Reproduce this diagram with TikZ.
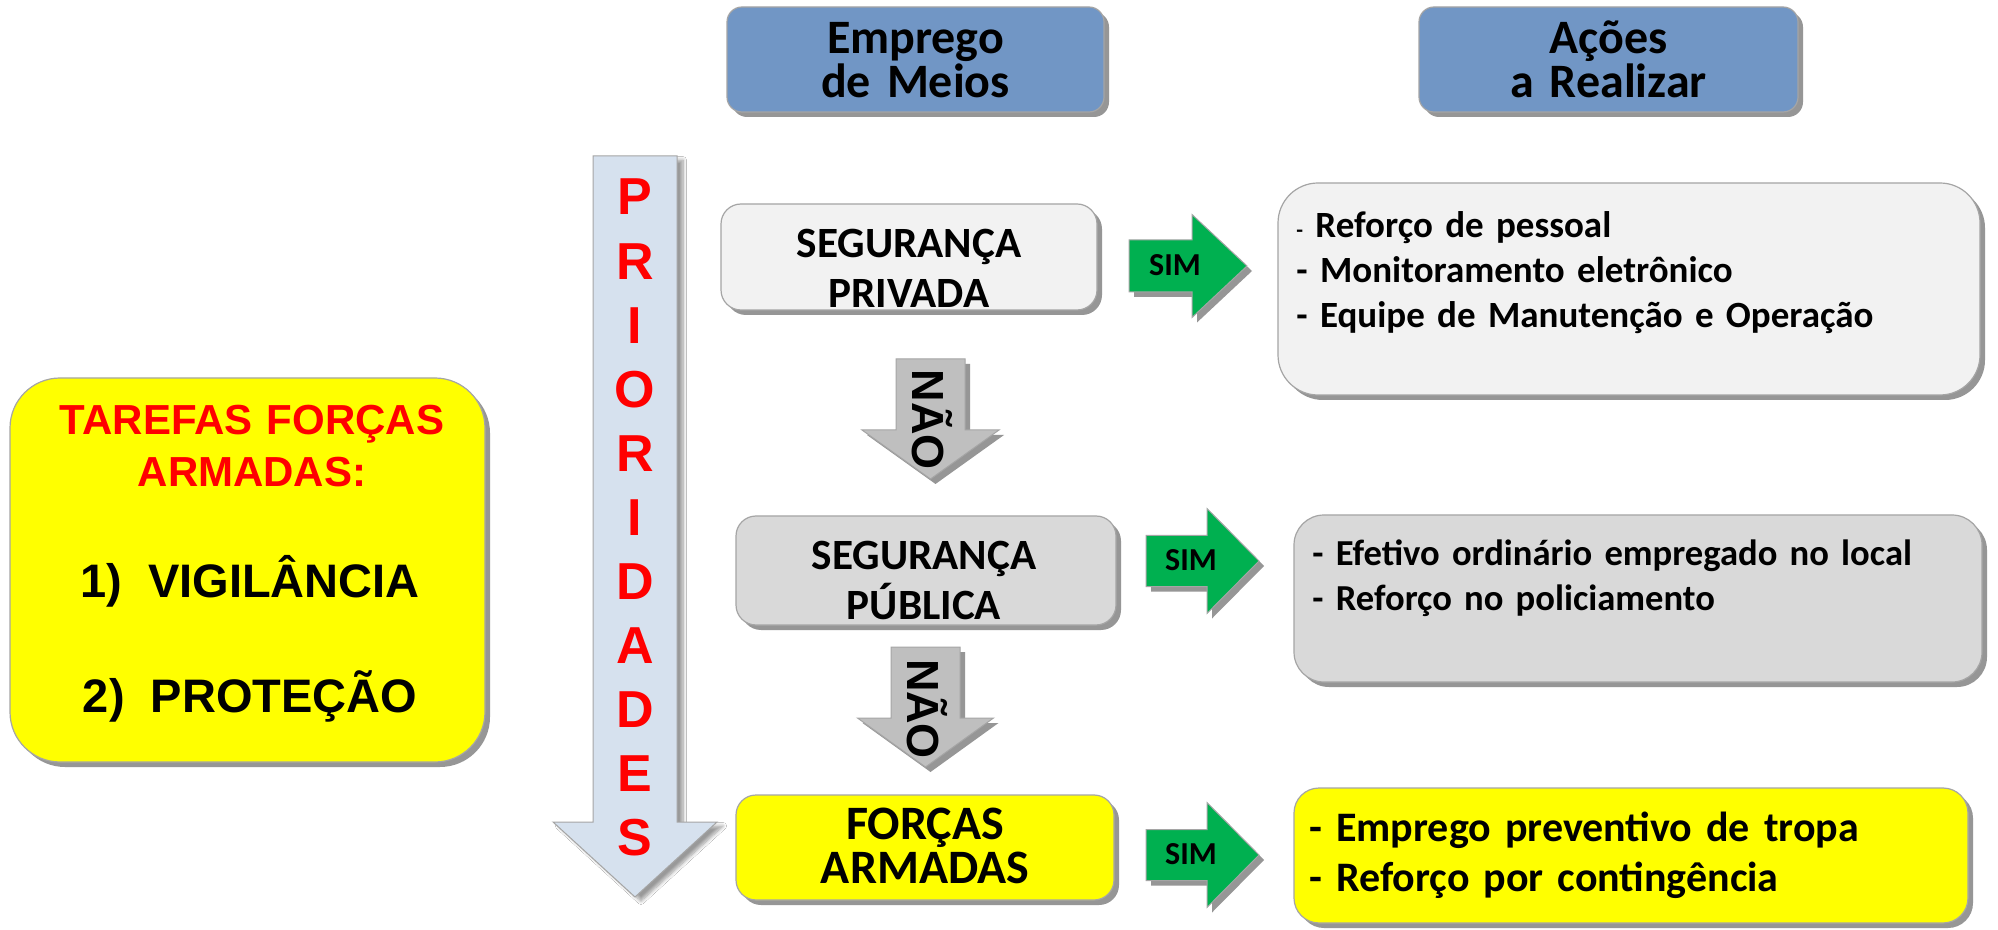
\documentclass[tikz,border=0pt]{standalone}
\usepackage{fontspec}
\newfontfamily\calib{Carlito}
\newfontfamily\arialf{Liberation Sans}
\usetikzlibrary{shadows,shadows.blur}
\definecolor{hdblue}{RGB}{113,150,197}
\definecolor{lgray}{RGB}{242,242,242}
\definecolor{mgray}{RGB}{217,217,217}
\definecolor{ylw}{RGB}{255,255,0}
\definecolor{grn}{RGB}{0,176,80}
\definecolor{agray}{RGB}{191,191,191}
\definecolor{pblue}{RGB}{214,225,238}
\definecolor{bord}{RGB}{165,165,165}
\definecolor{shdc}{RGB}{150,150,150}
\definecolor{redt}{RGB}{255,0,0}
\newcommand\rblock[7]{\path[#7] ({#1},{#2-#3}) -- ({#4},{#2-#3}) -- ({#4},{#2-#5}) -- ({#6},{#2}) -- ({#4},{#2+#5}) -- ({#4},{#2+#3}) -- ({#1},{#2+#3}) -- cycle;}
\newcommand\dblock[7]{\path[#7] ({#1-#3},{#2}) -- ({#1+#3},{#2}) -- ({#1+#3},{#4}) -- ({#1+#5},{#4}) -- ({#1},{#6}) -- ({#1-#5},{#4}) -- ({#1-#3},{#4}) -- cycle;}
\tikzset{
  shd/.style={drop shadow={shadow xshift=2.5pt,shadow yshift=-2.5pt,fill=shdc,opacity=1}},
  box/.style={draw=bord,line width=0.6pt,inner sep=0pt,shd},
  cal/.style={font=\calib\bfseries\fontsize{#1}{#1}\selectfont},
  blockarrow/.style={draw=bord,line width=0.5pt,shd},
}
\begin{document}
\lineskiplimit=-100pt
\begin{tikzpicture}[x=0.5pt,y=-0.5pt]
\fill[white] (0,0) rectangle (1998,930);
\useasboundingbox (0,0) rectangle (1998,930);

% left box
\node[box,fill=ylw,rounded corners=25pt,minimum width=237.5pt,minimum height=192pt] (tarefas) at (247.5,570) {};
\node[anchor=base,inner sep=0pt,text width=230pt,align=center,text=redt,
      font=\arialf\bfseries\fontsize{21pt}{26pt}\selectfont] (tit) at (252,435) {TAREFAS FORÇAS\\ARMADAS:};
\node[anchor=base,inner sep=0pt,font=\arialf\bfseries\fontsize{23.5pt}{28pt}\selectfont] (vig) at (250,597) {1)\ \ VIGILÂNCIA};
\node[anchor=base,inner sep=0pt,font=\arialf\bfseries\fontsize{23.5pt}{28pt}\selectfont] (prot) at (250,712) {2)\ \ PROTEÇÃO};

% headers
\node[box,fill=hdblue,rounded corners=7.5pt,minimum width=188.5pt,minimum height=52.5pt] (h1) at (915.5,59.5) {};
\node[anchor=base,inner sep=0pt,text width=180pt,align=center,
      font=\calib\bfseries\fontsize{24pt}{20.5pt}\selectfont] (h1t) at (915.5,54) {Emprego\\de Meios};
\node[box,fill=hdblue,rounded corners=7.5pt,minimum width=189.5pt,minimum height=52.5pt] (h2) at (1608.5,59.5) {};
\node[anchor=base,inner sep=0pt,text width=180pt,align=center,
      font=\calib\bfseries\fontsize{24pt}{20.5pt}\selectfont] (h2t) at (1608.5,54) {Ações\\a Realizar};

% priorities arrow
\dblock{635}{156}{42}{822}{82}{897}{fill=pblue,draw=bord,line width=0.5pt,blur shadow={shadow xshift=3pt,shadow yshift=-2pt,shadow blur steps=8}}
\node[anchor=base,inner sep=0pt,text width=40pt,align=center,text=redt,
      font=\arialf\bfseries\fontsize{26pt}{32.05pt}\selectfont] (prio) at (635,215)
      {P\\R\\I\\O\\R\\I\\D\\A\\D\\E\\S};

% middle column
\node[box,fill=lgray,rounded corners=10pt,minimum width=188pt,minimum height=53pt] (m1) at (909,257) {};
\node[anchor=base,inner sep=0pt,text width=185pt,align=center,
      font=\calib\bfseries\fontsize{21.6pt}{25pt}\selectfont] (m1t) at (909,258) {SEGURANÇA\\PRIVADA};
\node[box,fill=mgray,rounded corners=10pt,minimum width=190pt,minimum height=54.5pt] (m2) at (926,570.5) {};
\node[anchor=base,inner sep=0pt,text width=185pt,align=center,
      font=\calib\bfseries\fontsize{21.6pt}{25pt}\selectfont] (m2t) at (924,569) {SEGURANÇA\\PÚBLICA};
\node[box,fill=ylw,rounded corners=10pt,minimum width=189pt,minimum height=52.5pt] (m3) at (925,847.5) {};
\node[anchor=base,inner sep=0pt,text width=185pt,align=center,
      font=\calib\bfseries\fontsize{24pt}{22pt}\selectfont] (m3t) at (925,839) {FORÇAS\\ARMADAS};

% NAO arrows
\dblock{930.5}{359}{34.5}{430}{68.5}{479}{fill=agray,blockarrow}
\node[rotate=-90,inner sep=0pt,font=\arialf\bfseries\fontsize{22.5pt}{22.5pt}\selectfont] (nao1) at (932,420) {NÃO};
\dblock{925.5}{647}{34.5}{718}{68}{767}{fill=agray,blockarrow}
\node[rotate=-90,inner sep=0pt,font=\arialf\bfseries\fontsize{22.5pt}{22.5pt}\selectfont] (nao2) at (927,709) {NÃO};

% SIM arrows
\rblock{1129}{266}{26}{1192}{51.5}{1247}{fill=grn,blockarrow}
\node[inner sep=0pt,cal=16pt] (sim1) at (1175,265) {SIM};
\rblock{1146}{561}{25.5}{1207}{52.5}{1259}{fill=grn,blockarrow}
\node[inner sep=0pt,cal=16pt] (sim2) at (1191,560) {SIM};
\rblock{1146}{855}{25.5}{1207}{52.5}{1259}{fill=grn,blockarrow}
\node[inner sep=0pt,cal=16pt] (sim3) at (1191,854) {SIM};

% right column
\node[box,fill=lgray,rounded corners=20pt,minimum width=351pt,minimum height=106pt] (r1) at (1629,289) {};
\node[anchor=base west,inner sep=0pt,text width=340pt,align=left,
      font=\calib\bfseries\fontsize{18.5pt}{22.3pt}\selectfont] (r1t) at (1296,238)
      {{\fontsize{11pt}{11pt}\selectfont -} Reforço de pessoal\\- Monitoramento eletrônico\\- Equipe de Manutenção e Operação};
\node[box,fill=mgray,rounded corners=15pt,minimum width=344pt,minimum height=83.5pt] (r2) at (1638,598.5) {};
\node[anchor=base west,inner sep=0pt,text width=330pt,align=left,
      font=\calib\bfseries\fontsize{18.3pt}{22.5pt}\selectfont] (r2t) at (1312,566)
      {- Efetivo ordinário empregado no local\\- Reforço no policiamento};
\node[box,fill=ylw,rounded corners=12.5pt,minimum width=337pt,minimum height=67.5pt] (r3) at (1631,855.5) {};
\node[anchor=base west,inner sep=0pt,text width=330pt,align=left,
      font=\calib\bfseries\fontsize{21pt}{25pt}\selectfont] (r3t) at (1309,841)
      {- Emprego preventivo de tropa\\- Reforço por contingência};
\end{tikzpicture}
\end{document}
